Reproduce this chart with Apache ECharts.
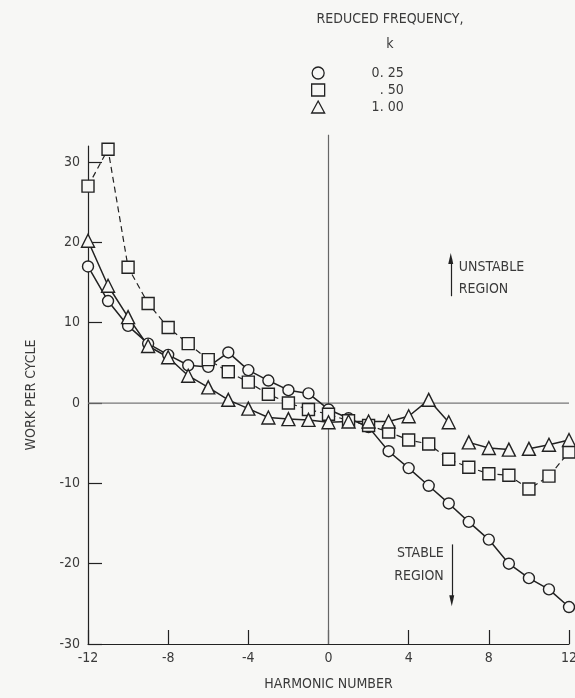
<!DOCTYPE html>
<html><head><meta charset="utf-8">
<script src="https://cdn.jsdelivr.net/npm/echarts@6/dist/echarts.min.js"></script>
<style>html,body{margin:0;padding:0;background:#f7f7f5}#c{width:575px;height:698px}</style>
</head><body><div id="c"></div>
<script>
const harmonics = [-12,-11,-10,-9,-8,-7,-6,-5,-4,-3,-2,-1,0,1,2,3,4,5,6,7,8,9,10,11,12];
const work025 = [17.0,12.7,9.6,7.4,6.0,4.7,4.5,6.3,4.1,2.8,1.6,1.2,-0.8,-1.9,-3.0,-6.0,-8.1,-10.3,-12.5,-14.8,-17.0,-20.0,-21.8,-23.2,-25.4];
const work050 = [27.0,31.6,16.9,12.4,9.4,7.4,5.4,3.9,2.6,1.1,0.0,-0.8,-1.4,-2.2,-2.8,-3.6,-4.6,-5.1,-7.0,-8.0,-8.8,-9.0,-10.7,-9.1,-6.1];
const work100 = [20.2,14.6,10.7,7.1,5.7,3.4,1.95,0.4,-0.7,-1.8,-2.0,-2.1,-2.4,-2.3,-2.3,-2.3,-1.65,0.4,-2.4,-4.9,-5.6,-5.8,-5.7,-5.2,-4.6];
const triangleBreaks = [6.5, 9.5];
const seriesNames = ['0. 25', '. 50', '1. 00'];
const xTicks = [-12,-8,-4,0,4,8,12];
const yTicks = [-30,-20,-10,0,10,20,30];

const BG = '#f7f7f5';
const INK = '#222';
const TXT = '#3a3a3a';
const FONT = '"DejaVu Sans Condensed", "Liberation Sans Narrow", sans-serif';
const FS = 14;

function pairs(vals) { return harmonics.map((h, i) => [h, vals[i]]); }
function withBreaks(vals, breaks) {
  const out = [];
  harmonics.forEach((h, i) => {
    out.push([h, vals[i]]);
    breaks.forEach(b => { if (h < b && (i + 1 < harmonics.length) && harmonics[i + 1] > b) out.push([b, '-']); });
  });
  return out;
}

const chart = echarts.init(document.getElementById('c'), null, {renderer: 'canvas'});
const mk = (name, symbol, size, data, dashed) => ({
  name, type: 'line', data, symbol, symbolSize: size, connectNulls: false,
  itemStyle: {color: BG, borderColor: INK, borderWidth: 1.4},
  lineStyle: {color: INK, width: dashed ? 1.2 : 1.5, type: dashed ? [6, 4] : 'solid'},
  z: 3, animation: false
});

chart.setOption({
  backgroundColor: BG,
  animation: false,
  textStyle: {fontFamily: FONT, color: TXT},
  title: {
    text: 'REDUCED FREQUENCY,\nk', left: 385, top: 2, textAlign: 'center',
    textStyle: {fontFamily: FONT, fontWeight: 'normal', fontSize: FS, color: TXT, lineHeight: 25}
  },
  legend: {
    orient: 'vertical', left: 311, top: 66, padding: 0, itemWidth: 13, itemHeight: 12, itemGap: 3,
    data: [{name: seriesNames[0], icon: 'circle'}, {name: seriesNames[1], icon: 'rect'}, {name: seriesNames[2], icon: 'triangle'}],
    itemStyle: {color: BG, borderColor: INK, borderWidth: 1.3},
    formatter: n => '{a|' + n + '}',
    textStyle: {fontFamily: FONT, fontSize: FS, color: TXT, rich: {a: {width: 74, lineHeight: 15, align: 'right', fontFamily: FONT, fontSize: FS, color: TXT}}}
  },
  grid: {left: 88, right: 6, top: 146, bottom: 54, outerBoundsMode: 'none', containLabel: false},
  xAxis: {
    type: 'value', min: -12, max: 12, interval: 4,
    name: 'HARMONIC NUMBER', nameLocation: 'middle', nameGap: 33,
    nameTextStyle: {fontFamily: FONT, fontSize: FS, color: TXT},
    axisLine: {show: true, onZero: false, lineStyle: {color: INK, width: 1.2}},
    axisTick: {show: true, inside: true, length: 14, lineStyle: {color: INK, width: 1.2}},
    axisLabel: {fontFamily: FONT, fontSize: FS, color: TXT, margin: 7, showMinLabel: true, showMaxLabel: true},
    splitLine: {show: false}
  },
  yAxis: {
    type: 'value', min: -30, max: 32, interval: 10,
    name: 'WORK PER CYCLE', nameLocation: 'middle', nameGap: 50,
    nameTextStyle: {fontFamily: FONT, fontSize: FS, color: TXT},
    axisLine: {show: true, onZero: false, lineStyle: {color: INK, width: 1.2}},
    axisTick: {show: true, inside: true, length: 14, customValues: yTicks, lineStyle: {color: INK, width: 1.2}},
    axisLabel: {fontFamily: FONT, fontSize: FS, color: TXT, margin: 8, customValues: yTicks},
    splitLine: {show: false}
  },
  series: [
    {
      name: 'zero-h', type: 'line', data: [[-12, 0], [12, 0]], symbol: 'none',
      lineStyle: {color: '#777', width: 1.2}, z: 1, silent: true, animation: false,
      markLine: {
        silent: true, animation: false, symbol: ['none', 'triangle'], symbolSize: 9,
        lineStyle: {color: INK, width: 1.2, type: 'solid'}, label: {show: false},
        data: [
          [{coord: [6.1, 13.3]}, {coord: [6.1, 18.0], symbol: 'triangle', symbolSize: [5, 11]}],
          [{coord: [6.15, -17.6]}, {coord: [6.15, -24.6], symbol: 'triangle', symbolSize: [5, 11]}]
        ]
      },
      markPoint: {
        silent: true, animation: false, symbol: 'circle', symbolSize: 0,
        data: [
          {coord: [6.1, 15.5], label: {show: true, position: 'right', distance: 8, formatter: 'UNSTABLE\nREGION', align: 'left', fontFamily: FONT, fontSize: FS, color: TXT, lineHeight: 22}},
          {coord: [6.15, -20.1], label: {show: true, position: 'left', distance: 8, formatter: 'STABLE\nREGION', align: 'right', fontFamily: FONT, fontSize: FS, color: TXT, lineHeight: 23}}
        ]
      }
    },
    {
      name: 'zero-v', type: 'line', data: [[0, -30], [0, 33.4]], symbol: 'none', clip: false,
      lineStyle: {color: '#666', width: 1.2}, z: 1, silent: true, animation: false
    },
    mk(seriesNames[0], 'circle', 11, pairs(work025), false),
    mk(seriesNames[1], 'rect', 12, pairs(work050), true),
    mk(seriesNames[2], 'triangle', 13, withBreaks(work100, triangleBreaks), false)
  ]
});
</script>
</body></html>
